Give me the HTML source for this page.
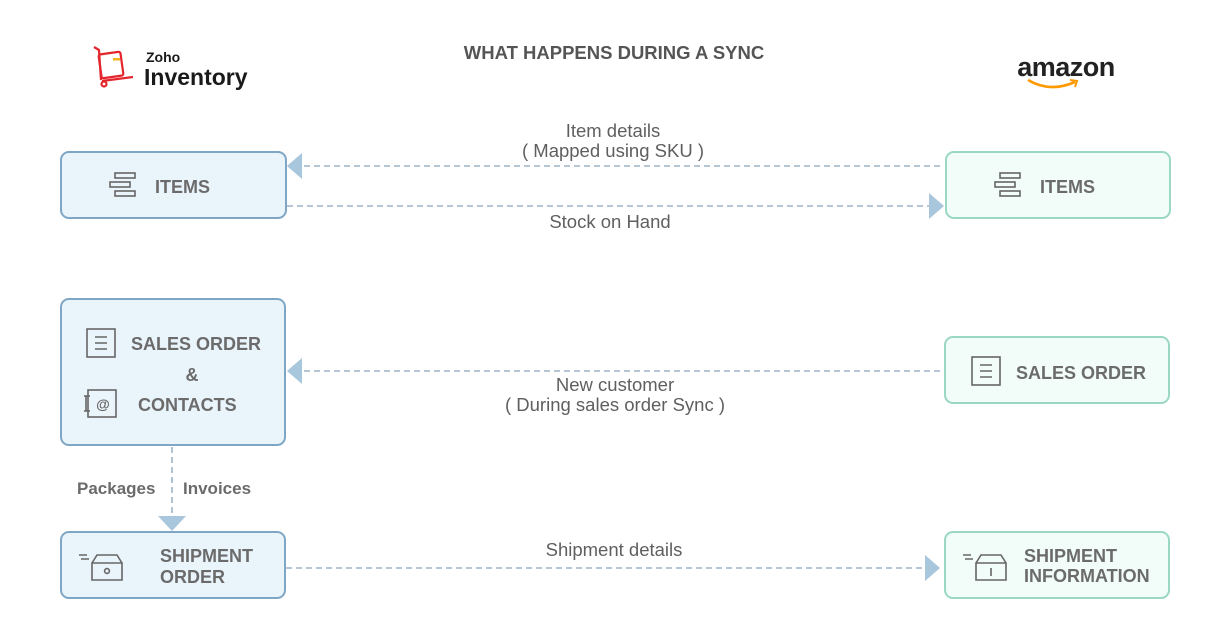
<!DOCTYPE html>
<html><head><meta charset="utf-8"><style>
body{margin:0;background:#fff}
svg{display:block}
text{font-family:"Liberation Sans",sans-serif}
</style></head><body>
<svg width="1231" height="641" viewBox="0 0 1231 641" xmlns="http://www.w3.org/2000/svg">
<rect width="1231" height="641" fill="#fff"/>
<g fill="none" stroke="#e4262c" stroke-width="2.2" stroke-linejoin="round">
<path d="M94 47 L99 50 L101 80"/>
<rect x="100" y="53" width="22" height="24" rx="2" transform="rotate(-8 111 65)"/>
<path d="M102 81 L133 77"/>
<circle cx="104" cy="84" r="2.5"/>
</g>
<rect x="113" y="58" width="7" height="2.5" fill="#f5b21b"/>
<text x="146" y="62" font-size="14" font-weight="bold" fill="#1a1a1a">Zoho</text>
<text x="144" y="85" font-size="23" font-weight="bold" fill="#1a1a1a">Inventory</text>
<text x="614" y="59" font-size="18.5" font-weight="bold" fill="#555" text-anchor="middle">WHAT HAPPENS DURING A SYNC</text>
<text x="1066" y="76" font-size="27" font-weight="bold" fill="#222" text-anchor="middle" letter-spacing="-0.5">amazon</text>
<path d="M1028 80 Q1050 93 1075 82" fill="none" stroke="#f90" stroke-width="2.6"/>
<path d="M1070 80 L1077 81 L1075 87" fill="none" stroke="#f90" stroke-width="2"/>
<g stroke-width="2">
<rect x="61" y="152" width="225" height="66" rx="8" fill="#eaf4fb" stroke="#7fa7c5"/>
<rect x="946" y="152" width="224" height="66" rx="8" fill="#f2fdf9" stroke="#9ad8c3"/>
<rect x="61" y="299" width="224" height="146" rx="8" fill="#eaf4fb" stroke="#7fa7c5"/>
<rect x="945" y="337" width="224" height="66" rx="8" fill="#f2fdf9" stroke="#9ad8c3"/>
<rect x="61" y="532" width="224" height="66" rx="8" fill="#eaf4fb" stroke="#7fa7c5"/>
<rect x="945" y="532" width="224" height="66" rx="8" fill="#f2fdf9" stroke="#9ad8c3"/>
</g>
<g fill="none" stroke="#666" stroke-width="1.6">
<rect x="115" y="173" width="20" height="5"/><rect x="110" y="182" width="20" height="5"/><rect x="115" y="191" width="20" height="5"/>
<rect x="1000" y="173" width="20" height="5"/><rect x="995" y="182" width="20" height="5"/><rect x="1000" y="191" width="20" height="5"/>
<rect x="87" y="329" width="28" height="28"/><path d="M95 337h12M95 343h12M95 349h12"/>
<rect x="972" y="357" width="28" height="28"/><path d="M980 365h12M980 371h12M980 377h12"/>
<rect x="88" y="390" width="28" height="27"/><path d="M84 396h6M84 411h6M86 396v15"/>
<path d="M92 563h30v17h-30z M92 563l5-8h20l5 8"/><circle cx="107" cy="571" r="2.4"/><path d="M79 555h8M81 559h8"/>
<path d="M976 563h30v17h-30z M976 563l5-8h20l5 8"/><path d="M991 568v8"/><path d="M963 555h8M965 559h8"/>
</g>
<text x="103" y="409" font-size="14" font-weight="bold" fill="#666" text-anchor="middle">@</text>
<g font-size="18" font-weight="bold" fill="#6b6b6b">
<text x="155" y="193">ITEMS</text>
<text x="1040" y="193">ITEMS</text>
<text x="131" y="350">SALES ORDER</text>
<text x="192" y="381" text-anchor="middle">&amp;</text>
<text x="138" y="411">CONTACTS</text>
<text x="1016" y="379">SALES ORDER</text>
<text x="160" y="562">SHIPMENT</text><text x="160" y="583">ORDER</text>
<text x="1024" y="562">SHIPMENT</text><text x="1024" y="582">INFORMATION</text>
<text x="77" y="494" font-size="17">Packages</text>
<text x="183" y="494" font-size="17">Invoices</text>
</g>
<g stroke="#9db4c8" stroke-width="1.6" stroke-dasharray="6 4" fill="none">
<path d="M940 166H300"/><path d="M287 206H930"/><path d="M940 371H300"/>
<path d="M172 447V516"/><path d="M286 568H925"/>
</g>
<g fill="#a8c6dc">
<path d="M287 166l15-13v26z"/><path d="M944 206l-15-13v26z"/><path d="M287 371l15-13v26z"/>
<path d="M172 531l-14-15h28z"/><path d="M940 568l-15-13v26z"/>
</g>
<g font-size="18.5" fill="#5f5f5f" text-anchor="middle">
<text x="613" y="137">Item details</text><text x="613" y="157">( Mapped using SKU )</text>
<text x="610" y="228">Stock on Hand</text>
<text x="615" y="391">New customer</text><text x="615" y="411">( During sales order Sync )</text>
<text x="614" y="556">Shipment details</text>
</g>
</svg>
</body></html>
